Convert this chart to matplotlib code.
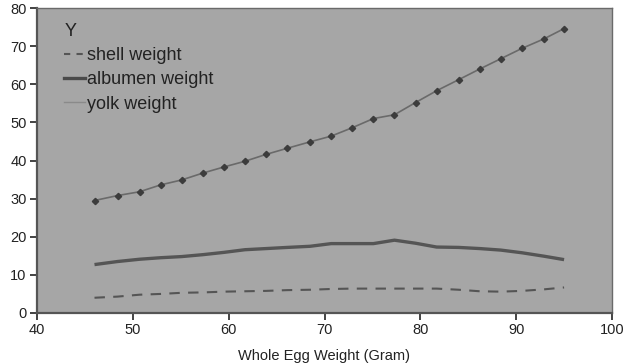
import matplotlib
matplotlib.use("Agg")
import matplotlib.pyplot as plt
from matplotlib.lines import Line2D

plt.rcParams['font.family'] = ['Liberation Sans', 'DejaVu Sans']

whole_weight = [46.0, 48.4, 50.7, 52.9, 55.1, 57.3, 59.5, 61.7, 63.9, 66.1,
                68.5, 70.7, 72.9, 75.1, 77.3, 79.5, 81.7, 84.0, 86.2, 88.4,
                90.6, 92.9, 95.0]
top_series = [29.5, 30.8, 31.8, 33.6, 34.9, 36.7, 38.3, 39.8, 41.6, 43.2,
              44.9, 46.4, 48.6, 51.0, 52.0, 55.2, 58.3, 61.2, 64.0, 66.7,
              69.4, 71.9, 74.6]
mid_series = [12.7, 13.5, 14.1, 14.5, 14.8, 15.3, 15.9, 16.6, 16.9, 17.2,
              17.5, 18.2, 18.2, 18.2, 19.1, 18.3, 17.3, 17.2, 16.9, 16.5,
              15.8, 14.9, 14.0]
shell_weight = [4.0, 4.3, 4.8, 5.0, 5.3, 5.4, 5.6, 5.7, 5.8, 6.0,
                6.1, 6.3, 6.4, 6.4, 6.4, 6.4, 6.4, 6.1, 5.7, 5.6,
                5.8, 6.2, 6.7]

x_ticks = [40, 50, 60, 70, 80, 90, 100]
y_ticks = [0, 10, 20, 30, 40, 50, 60, 70, 80]
legend_labels = ["shell weight", "albumen weight", "yolk weight"]

fig = plt.figure(figsize=(6.24, 3.64), dpi=100)
ax = fig.add_axes([37/624, 1-313/364, (612-37)/624, (313-8)/364])
ax.set_facecolor('#a6a6a6')

ax.plot(whole_weight, top_series, color='#6a6a6a', lw=1.2,
        marker='D', markersize=3.2, markerfacecolor='#3c3c3c',
        markeredgecolor='#3c3c3c', zorder=3)
ax.plot(whole_weight, mid_series, color='#555555', lw=2.4, zorder=3,
        solid_capstyle='butt')
ax.plot(whole_weight, shell_weight, color='#555555', lw=1.5,
        dashes=(5, 4), zorder=3)

ax.set_xlim(40, 100)
ax.set_ylim(0, 80)
ax.set_xticks(x_ticks)
ax.set_yticks(y_ticks)
ax.tick_params(labelsize=10.5, colors='#222222', length=5, width=1.2,
               direction='out', pad=2.5)
for s in ['left', 'bottom']:
    ax.spines[s].set_color('#555555')
    ax.spines[s].set_linewidth(1.6)
for s in ['top', 'right']:
    ax.spines[s].set_color('#6a6a6a')
    ax.spines[s].set_linewidth(1.0)

ax.set_xlabel("Whole Egg Weight (Gram)", fontsize=10.5, color='#222222',
              labelpad=8)

handles = [
    Line2D([], [], color='#555555', lw=1.5, dashes=(3, 3)),
    Line2D([], [], color='#4a4a4a', lw=2.4),
    Line2D([], [], color='#8a8a8a', lw=1.0),
]
leg = ax.legend(handles, legend_labels, title="Y", loc='upper left',
                frameon=False, fontsize=13, title_fontsize=13,
                handlelength=1.15, handletextpad=0.1, labelspacing=0.4,
                borderaxespad=0.0, bbox_to_anchor=(0.035, 0.975))
leg._legend_box.align = "left"
for t in leg.get_texts():
    t.set_color('#222222')
leg.get_title().set_color('#222222')

fig.savefig("out.png", dpi=100)
